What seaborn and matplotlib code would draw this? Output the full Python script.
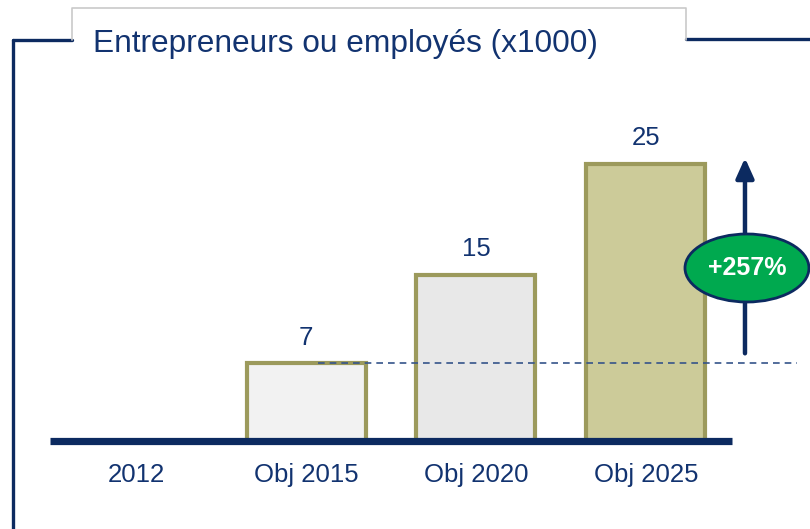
import matplotlib
matplotlib.use("Agg")
import matplotlib.pyplot as plt
from matplotlib.patches import Ellipse
from matplotlib.lines import Line2D
import seaborn as sns
import pandas as pd

# Data
categories = ["2012", "Obj 2015", "Obj 2020", "Obj 2025"]
values = [0, 7, 15, 25]
value_labels = ["", "7", "15", "25"]
growth_label = "+257%"
title = "Entrepreneurs ou employés (x1000)"

sns.set_theme(style="white")
plt.rcParams["font.family"] = ["Liberation Sans", "DejaVu Sans"]

NAVY = "#0C2A60"
TEXT = "#123370"
OLIVE = "#9C9A5C"
GREEN = "#00A94F"
fills = ["#FFFFFF", "#F2F2F2", "#E8E8E8", "#CCCB99"]

W, H = 810, 529
fig = plt.figure(figsize=(W / 100, H / 100), dpi=100)
fig.patch.set_facecolor("white")


def fx(x):
    return x / W


def fy(y):
    return 1 - y / H


# axes placed so that the baseline runs along its bottom edge
ax_l, ax_r, ax_b, ax_t = 50, 732, 441, 90
ax = fig.add_axes([fx(ax_l), fy(ax_b), (ax_r - ax_l) / W, (ax_b - ax_t) / H])
ax.set_facecolor("none")

df = pd.DataFrame({"cat": categories, "val": values})
sns.barplot(data=df, x="cat", y="val", hue="cat", palette=fills, legend=False,
            saturation=1, width=0.70, edgecolor=OLIVE, linewidth=3.0, ax=ax)

ax.set_xlim(-0.506, 3.506)
ax.set_ylim(0, (ax_b - ax_t) / 11.1)

for s in ["top", "left", "right"]:
    ax.spines[s].set_visible(False)
ax.spines["bottom"].set_color(NAVY)
ax.spines["bottom"].set_linewidth(5.2)
ax.spines["bottom"].set_capstyle("butt")
ax.spines["bottom"].set_zorder(5)

ax.set_xlabel("")
ax.set_ylabel("")
ax.set_yticks([])
ax.tick_params(axis="x", length=0, pad=16, labelsize=18.5, labelcolor=TEXT)

# value labels above bars
for i, (v, lab) in enumerate(zip(values, value_labels)):
    if lab:
        ax.annotate(lab, (i, v), xytext=(0, 9.5), textcoords="offset points",
                    ha="center", va="bottom", fontsize=18.5, color=TEXT)

# reference level of the first objective, dashed
x_dash0 = (318 - 136) / 170
x_dash1 = (797 - 136) / 170
ax.plot([x_dash0, x_dash1], [values[1], values[1]], ls=(0, (4, 3)), lw=1.2,
        color="#35548A", clip_on=False, zorder=6)

# growth arrow
x_arrow = (745 - 136) / 170
ax.annotate("", xy=(x_arrow, 25.5), xytext=(x_arrow, 7.9),
            arrowprops=dict(arrowstyle="-|>,head_length=1.0,head_width=0.45",
                            color=NAVY, lw=3.2, shrinkA=0, shrinkB=0),
            annotation_clip=False, zorder=7)

# growth badge
cx, cy = (747 - 136) / 170, (441 - 268) / 11.1
badge = Ellipse((cx, cy), width=124 / 170, height=68 / 11.1, facecolor=GREEN,
                edgecolor=NAVY, linewidth=2.0, clip_on=False, zorder=8)
ax.add_patch(badge)
ax.text(cx, cy, growth_label, ha="center", va="center", fontsize=18,
        fontweight="bold", color="white", zorder=9, clip_on=False)

# frame around the panel with the title tab
navy_lw = 2.4
gray = "#C9C9C9"
fig.add_artist(Line2D([fx(13), fx(13)], [fy(40), fy(529)], color=NAVY, lw=navy_lw))
fig.add_artist(Line2D([fx(13), fx(72)], [fy(40), fy(40)], color=NAVY, lw=navy_lw))
fig.add_artist(Line2D([fx(686), fx(810)], [fy(39), fy(39)], color=NAVY, lw=navy_lw))
fig.add_artist(Line2D([fx(72), fx(72), fx(686), fx(686)],
                      [fy(40), fy(8), fy(8), fy(40)], color=gray, lw=1.2))

fig.text(fx(93), fy(52), title, ha="left", va="baseline", fontsize=22.8, color=TEXT)

fig.savefig("out.png", dpi=100, facecolor="white")
